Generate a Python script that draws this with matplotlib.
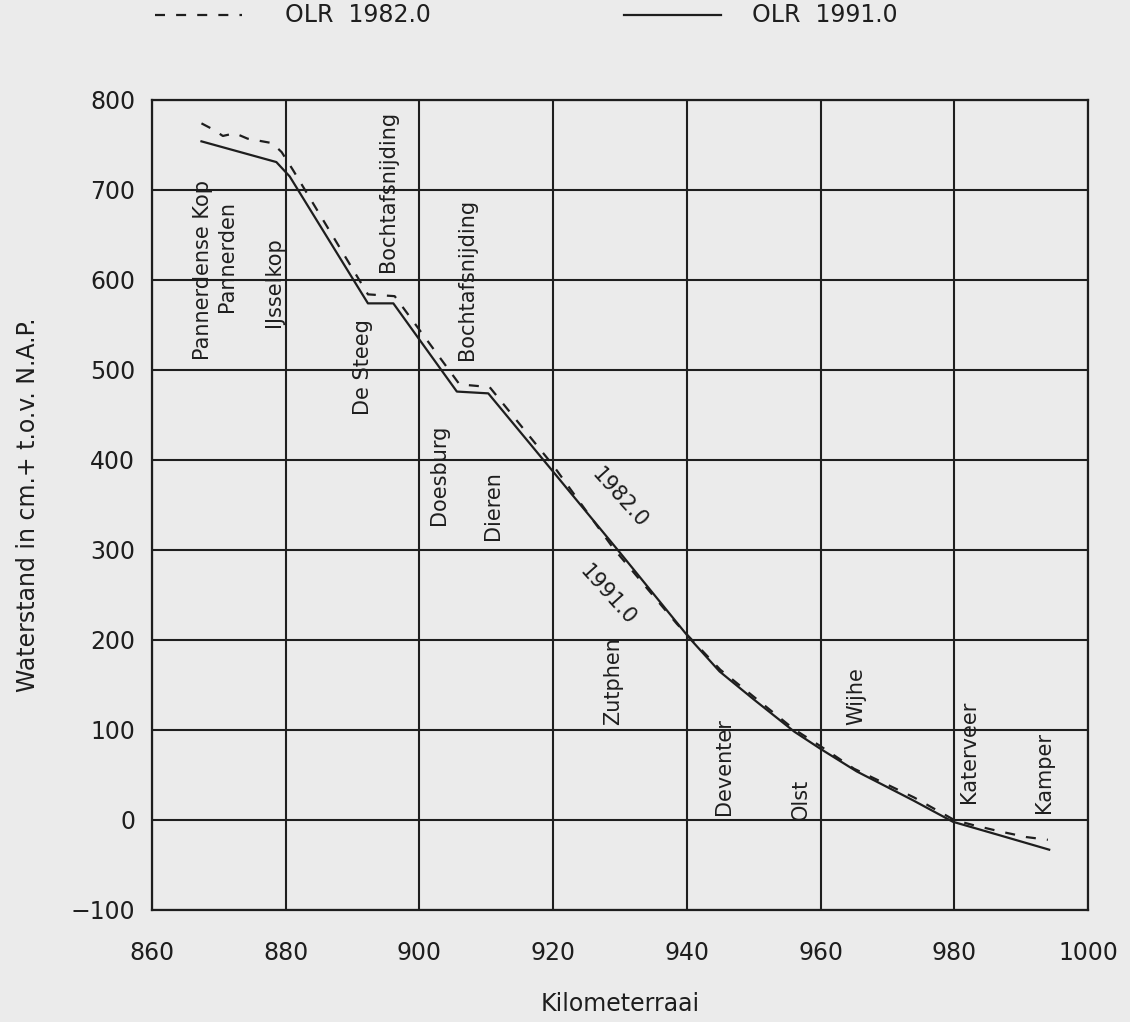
import matplotlib
matplotlib.use('Agg')
import matplotlib.pyplot as plt
from matplotlib.lines import Line2D

plt.rcParams['font.family'] = ['DejaVu Sans']

# OLR 1991.0 (solid)
km_1991 = [867.4, 878.6, 880.6, 892.3, 896.1, 905.6, 910.3, 920.0, 930.0, 940.4,
           944.9, 950.0, 956.1, 960.0, 965.4, 973.8, 979.8, 986.8, 994.2]
wl_1991 = [754, 731, 715, 574, 574, 476, 474, 387, 297, 202,
           165, 134, 98, 79, 54, 22, -2, -17, -33]

# OLR 1982.0 (dashed)
km_1982 = [867.4, 869.2, 870.6, 872.4, 874.3, 878.0, 879.4, 881.1, 892.3, 896.3,
           906.0, 910.5, 920.0, 929.0, 938.5, 940.4, 945.0, 956.0, 960.0, 965.0,
           974.0, 980.0, 983.0, 987.0, 990.8, 994.0]
wl_1982 = [774, 767, 760, 763, 757, 752, 742, 722, 584, 582,
           484, 481, 394, 302, 218, 203, 167, 101, 82, 57,
           25, 0, -6, -13, -19, -22]

# place names (km, bottom of text in cm)
places = ['Pannerdense Kop', 'Pannerden', 'IJsselkop', 'Bochtafsnijding', 'De Steeg',
          'Bochtafsnijding', 'Doesburg', 'Dieren', 'Zutphen', 'Deventer', 'Olst',
          'Wijhe', 'Katerveer', 'Kamper']
place_km = [867.6, 871.2, 878.2, 895.3, 891.5, 907.1, 903.0, 911.0, 929.0, 945.5,
            957.0, 965.4, 982.2, 993.4]
place_y = [511, 564, 548, 609, 450, 511, 328, 311, 105, 6, 0, 105, 19, 8]

bg = '#ebebeb'
ink = '#1e1e1e'

fig = plt.figure(figsize=(11.3, 10.22), dpi=100, facecolor=bg)
ax = fig.add_axes([0.1345, 0.1096, 0.8283, 0.7926], facecolor=bg)

ax.plot(km_1991, wl_1991, color=ink, lw=1.6)
ax.plot(km_1982, wl_1982, color=ink, lw=1.6, linestyle=(0, (4.5, 5)))

for name, x, y in zip(places, place_km, place_y):
    ax.text(x, y, name, rotation=90, ha='center', va='bottom', fontsize=15, color=ink)

ax.text(930.0, 358, '1982.0', rotation=-48, ha='center', va='center', fontsize=15, color=ink)
ax.text(928.2, 250, '1991.0', rotation=-48, ha='center', va='center', fontsize=15, color=ink)

ax.set_xlim(860, 1000)
ax.set_ylim(-100, 800)
ax.set_xticks(range(860, 1001, 20))
ax.set_yticks(range(-100, 801, 100))
ax.set_yticklabels(['\u2212100'] + [str(v) for v in range(0, 801, 100)])
ax.grid(True, color=ink, lw=1.5)
ax.set_axisbelow(True)
for s in ax.spines.values():
    s.set_color(ink)
    s.set_linewidth(1.6)
ax.tick_params(axis='both', length=0, labelsize=17, colors=ink)
ax.tick_params(axis='y', pad=12)
ax.tick_params(axis='x', pad=22)
ax.set_xlabel('Kilometerraai', fontsize=17, color=ink, labelpad=20)
ax.set_ylabel('Waterstand in cm.+ t.o.v. N.A.P.', fontsize=17, color=ink, labelpad=22)

# legend across the top
fig.add_artist(Line2D([155/1130, 242/1130], [1 - 15/1022, 1 - 15/1022],
                      color=ink, lw=1.6, linestyle=(0, (4.5, 5))))
fig.text(285/1130, 1 - 15/1022, 'OLR  1982.0', fontsize=17, color=ink, va='center')
fig.add_artist(Line2D([624/1130, 721/1130], [1 - 15/1022, 1 - 15/1022], color=ink, lw=1.6))
fig.text(752/1130, 1 - 15/1022, 'OLR  1991.0', fontsize=17, color=ink, va='center')

plt.savefig('out.png', dpi=100, facecolor=bg)
